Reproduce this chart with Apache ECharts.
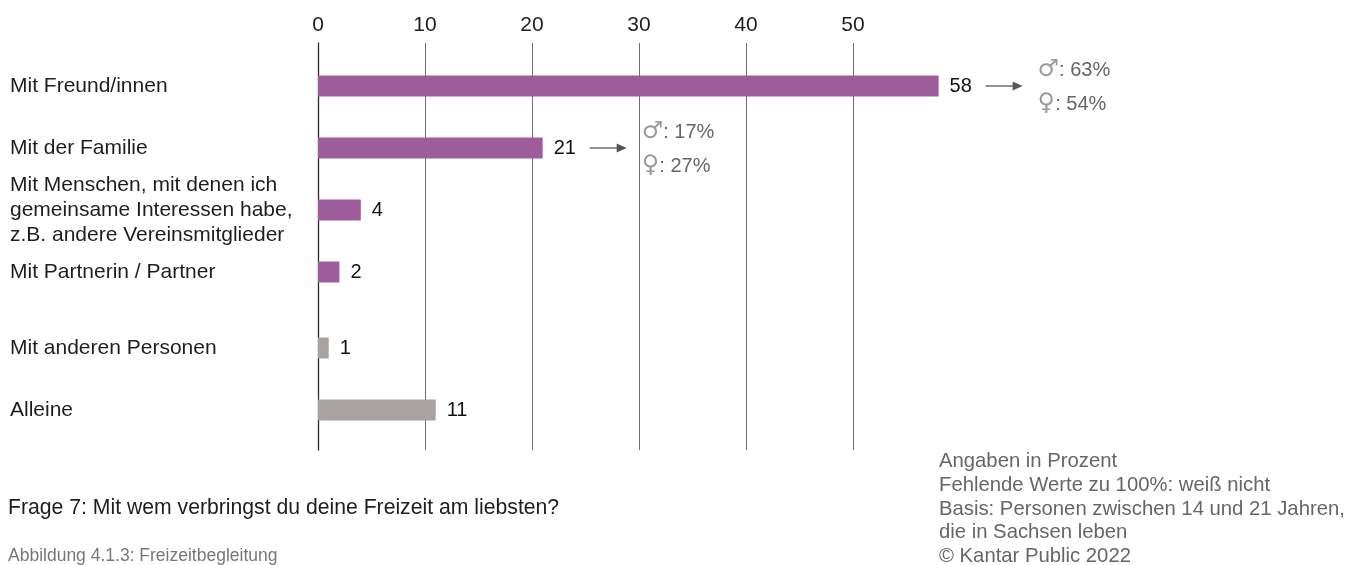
<!DOCTYPE html>
<html>
<head>
<meta charset="utf-8">
<script src="https://cdn.jsdelivr.net/npm/echarts@6/dist/echarts.min.js"></script>
<style>
html,body{margin:0;padding:0;background:#fff;}
#chart{width:1359px;height:565px;}
</style>
</head>
<body>
<div id="chart"></div>
<script>
// Data
var categoriesTop = ['Mit Freund/innen', 'Mit der Familie', 'Mit Menschen, mit denen ich\ngemeinsame Interessen habe,\nz.B. andere Vereinsmitglieder', 'Mit Partnerin / Partner'];
var valuesTop = [58, 21, 4, 2];
var categoriesBottom = ['Mit anderen Personen', 'Alleine'];
var valuesBottom = [1, 11];
var maleShare = [63, 17, null, null];
var femaleShare = [54, 27, null, null];
var xTicks = [0, 10, 20, 30, 40, 50, 60];

var FONT = '"Liberation Sans", Arial, sans-serif';
var PURPLE = '#9d5d9b';
var GREY = '#a8a3a0';

var chart = echarts.init(document.getElementById('chart'), null, {renderer: 'canvas'});

function hiddenX(idx) {
  return {gridIndex: idx, type: 'value', min: xTicks[0], max: xTicks[xTicks.length - 1], interval: 10, show: false};
}
function catY(idx, cats) {
  return {
    gridIndex: idx, type: 'category', data: cats, inverse: true,
    axisLine: {show: false}, axisTick: {show: false}, splitLine: {show: false},
    axisLabel: {align: 'left', margin: 308, color: '#1e1e1e', fontSize: 21, fontFamily: FONT, lineHeight: 25}
  };
}
var valueLabel = {show: true, position: 'right', distance: 11, color: '#111', fontSize: 20, fontFamily: FONT};

var option = {
  animation: false,
  backgroundColor: '#fff',
  grid: [
    {left: 318, top: 43, width: 642, height: 407},
    {left: 318, top: 55, width: 642, height: 248},
    {left: 318, top: 317, width: 642, height: 124}
  ],
  xAxis: [
    {
      gridIndex: 0, type: 'value', position: 'top', min: xTicks[0], max: xTicks[xTicks.length - 1], interval: 10,
      axisLine: {show: false}, axisTick: {show: false},
      axisLabel: {showMaxLabel: false, margin: 7, color: '#1e1e1e', fontSize: 21, fontFamily: FONT},
      splitLine: {show: true, showMaxLine: false, showMinLine: false, lineStyle: {color: '#6e6e6e', width: 1}}
    },
    hiddenX(1),
    hiddenX(2)
  ],
  yAxis: [
    {gridIndex: 0, type: 'value', axisLabel: {show: false}, splitLine: {show: false}, axisTick: {show: false},
     axisLine: {show: true, lineStyle: {color: '#2a2a2a', width: 1.3}}},
    catY(1, categoriesTop),
    catY(2, categoriesBottom)
  ],
  series: [
    {type: 'bar', xAxisIndex: 1, yAxisIndex: 1, data: valuesTop, barWidth: 21,
     itemStyle: {color: PURPLE}, label: valueLabel},
    {type: 'bar', xAxisIndex: 2, yAxisIndex: 2, data: valuesBottom, barWidth: 21,
     itemStyle: {color: GREY}, label: valueLabel}
  ],
  graphic: []
};
chart.setOption(option);

// Annotations (gender split) placed through the chart's own scales
var graphics = [];
var rich = {
  s: {fontFamily: '"DejaVu Sans", sans-serif', fontSize: 24, fill: '#9a9a9a', lineHeight: 30},
  t: {fontFamily: FONT, fontSize: 20, fill: '#666', lineHeight: 30}
};
for (var i = 0; i < valuesTop.length; i++) {
  if (maleShare[i] == null) continue;
  var p = chart.convertToPixel({xAxisIndex: 1, yAxisIndex: 1}, [valuesTop[i], i]);
  var x0 = p[0] + 47, x1 = p[0] + 84, y = p[1];
  graphics.push({type: 'line', shape: {x1: x0, y1: y, x2: x1 - 7, y2: y}, style: {stroke: '#555', lineWidth: 1.3}, silent: true});
  graphics.push({type: 'polygon', shape: {points: [[x1, y], [x1 - 10, y - 4.5], [x1 - 10, y + 4.5]]}, style: {fill: '#555'}, silent: true});
  graphics.push({type: 'text', x: p[0] + 99, y: y - 16, style: {text: '{s|\u2642}{t|: ' + maleShare[i] + '%}', rich: rich, verticalAlign: 'middle'}});
  graphics.push({type: 'text', x: p[0] + 99, y: y + 18, style: {text: '{s|\u2640}{t|: ' + femaleShare[i] + '%}', rich: rich, verticalAlign: 'middle'}});
}
// Footer texts
graphics.push({type: 'text', left: 8, top: 498, style: {text: 'Frage 7: Mit wem verbringst du deine Freizeit am liebsten?', fill: '#1e1e1e', fontSize: 21.2, fontFamily: FONT}});
graphics.push({type: 'text', left: 8, top: 547, style: {text: 'Abbildung 4.1.3: Freizeitbegleitung', fill: '#777', fontSize: 17.5, fontFamily: FONT}});
graphics.push({type: 'text', left: 939, top: 450, style: {
  text: 'Angaben in Prozent\nFehlende Werte zu 100%: weiß nicht\nBasis: Personen zwischen 14 und 21 Jahren,\ndie in Sachsen leben\n© Kantar Public 2022',
  fill: '#666', fontSize: 20.3, fontFamily: FONT, lineHeight: 23.6}});
chart.setOption({graphic: graphics});
</script>
</body>
</html>
